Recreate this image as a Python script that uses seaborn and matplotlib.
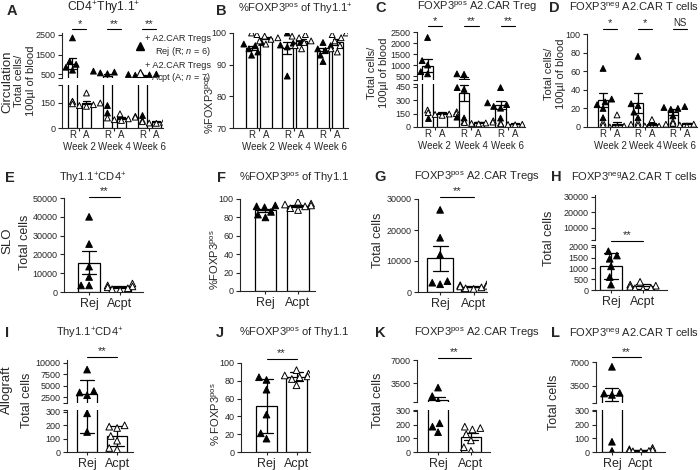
import warnings

import matplotlib

matplotlib.use("Agg")
import matplotlib.pyplot as plt
import pandas as pd
import seaborn as sns
from matplotlib.lines import Line2D

warnings.filterwarnings("ignore")

W, H = 700, 470
WEEKS = ["Week 2", "Week 4", "Week 6"]
GROUPS = ["Rej", "Acpt"]

# A - circulating CD4+Thy1.1+ per 100 ul blood, per week (R = rejecting, A = accepting)
a_rej = [[2350, 1150, 1000, 850, 700, 165], [650, 600, 560, 520, 135, 90], [500, 480, 460, 440, 420, 80]]
a_acpt = [[210, 160, 150, 145, 140, 135, 130], [85, 70, 65, 60, 55, 50, 45], [50, 45, 40, 38, 35, 30, 28]]
# B - %FOXP3pos of Thy1.1+
b_rej = [[97, 96.5, 96, 95, 94, 93], [100, 97, 96.8, 96.2, 95.6, 86.4], [97, 96, 95, 94.5, 93, 91]]
b_acpt = [[100, 99.5, 99, 98.5, 98, 97.5, 96.5], [99.5, 99, 98.5, 97.5, 97, 96, 95], [100, 99.5, 98.5, 97.5, 96, 95, 94]]
# C - FOXP3pos A2.CAR Treg
c_rej = [[2250, 1200, 1000, 700, 600, 100], [600, 580, 440, 420, 110, 100], [440, 270, 250, 230, 210, 100]]
c_acpt = [[190, 170, 160, 150, 145, 140, 130], [70, 60, 55, 50, 45, 40, 35], [50, 45, 40, 35, 30, 28, 25]]
# D - FOXP3neg A2.CAR T cells
d_rej = [[63, 30, 27, 24, 20, 10], [76, 25, 23, 16, 10, 2], [22, 21, 20, 19, 12, 2]]
d_acpt = [[13, 5, 3, 2, 1, 0, 0], [8, 5, 3, 2, 1, 1, 0], [7, 6, 5, 4, 3, 2, 1]]

# E-H - SLO totals
e_rej, e_acpt = [40000, 25500, 13500, 8000, 3500, 3500], [4500, 3500, 3000, 2500, 2000, 1500, 1000]
f_rej, f_acpt = [93, 92, 91, 86, 83, 80], [97, 95, 94, 93, 92, 90, 88]
g_rej, g_acpt = [26500, 17500, 12000, 3500, 3000, 2500], [2500, 2200, 2000, 1800, 1500, 1200, 1000]
h_rej, h_acpt = [1800, 1600, 1450, 1100, 600, 250], [380, 250, 200, 150, 100, 80, 50]
# I-L - allograft totals
i_rej, i_acpt = [8500, 3800, 3500, 2900, 290, 150], [200, 190, 180, 120, 85, 30, 20]
j_rej, j_acpt = [84, 81, 70, 42, 21, 15], [92, 88, 86, 85, 84, 82, 75]
k_rej, k_acpt = [2800, 1500, 700, 210, 185, 145], [185, 175, 165, 130, 85, 35, 8]
l_rej, l_acpt = [6300, 2500, 2400, 2200, 75, 8], [30, 20, 15, 10, 8, 5, 3]

sns.set_style("ticks")
plt.rcParams["font.family"] = ["Liberation Sans", "DejaVu Sans"]
plt.rcParams["mathtext.fontset"] = "custom"
plt.rcParams["mathtext.rm"] = "Liberation Sans"
plt.rcParams["mathtext.it"] = "Liberation Sans:italic"
plt.rcParams["mathtext.default"] = "regular"
plt.rcParams["axes.linewidth"] = 0.8


def by_week(rej, acpt):
    rows = []
    for week, r, a in zip(WEEKS, rej, acpt):
        rows += [(week, "R", v) for v in r] + [(week, "A", v) for v in a]
    return pd.DataFrame(rows, columns=["week", "grp", "value"])


def by_group(rej, acpt):
    rows = [("Rej", v) for v in rej] + [("Acpt", v) for v in acpt]
    return pd.DataFrame(rows, columns=["grp", "value"])


def rect(l, t, r, b):
    return [l / W, 1 - b / H, (r - l) / W, (b - t) / H]


def ftext(fig, x, y, s, **kw):
    kw.setdefault("ha", "center")
    kw.setdefault("va", "center")
    fig.text(x / W, 1 - y / H, s, **kw)


def panel(fig, x0, x1, segs, df, ylims, yticks, xlim, err, grouped=False, width=0.7, gap=0.0):
    axes = [fig.add_axes(rect(x0, t, x1, b)) for t, b in segs]
    broken = len(axes) > 1
    for i, ax in enumerate(axes):
        lo, hi = ylims[i]
        # each point goes to one segment only, so nothing peeks over the break
        pts = df
        if broken:
            pts = df[(df["value"] >= lo) & (df["value"] <= hi)]
            if i < len(axes) - 1:
                pts = pts[pts["value"] > ylims[i + 1][1]]
        bar_kw = dict(errorbar=err, capsize=0.45, edgecolor="black", linewidth=0.9, saturation=1,
                      err_kws={"color": "black", "linewidth": 0.9}, ax=ax)
        pt_kw = dict(marker="^", edgecolor="black", linewidth=0.7, legend=False, warn_thresh=1, ax=ax)
        if grouped:
            sns.barplot(data=df, x="week", y="value", hue="grp", order=WEEKS, hue_order=["R", "A"],
                        palette={"R": "white", "A": "white"}, width=0.8, gap=gap, legend=False, **bar_kw)
            sns.swarmplot(data=pts, x="week", y="value", hue="grp", order=WEEKS, hue_order=["R", "A"],
                          palette={"R": "black", "A": "white"}, dodge=True, size=4.2, **pt_kw)
        else:
            sns.barplot(data=df, x="grp", y="value", order=GROUPS, color="white", width=width, **bar_kw)
            sns.swarmplot(data=pts, x="grp", y="value", hue="grp", order=GROUPS, hue_order=GROUPS,
                          palette={"Rej": "black", "Acpt": "white"}, size=4.8, **pt_kw)
        ax.set_ylim(lo, hi)
        ax.set_yticks(yticks[i])
        ax.set_xlim(xlim)
        ax.set_xlabel("")
        ax.set_ylabel("")
        sns.despine(ax=ax)
        ax.tick_params(labelsize=6.5, length=3, width=0.8, pad=1.5)
        if broken:
            ax.set_yticks([lo if i == 0 else hi], minor=True)
            ax.tick_params(axis="y", which="minor", length=3, width=0.8)
        if i < len(axes) - 1:
            ax.spines["bottom"].set_visible(False)
            ax.tick_params(axis="x", bottom=False, labelbottom=False)

    low = axes[-1]
    if grouped:
        centers = sorted(p.get_x() + p.get_width() / 2 for p in low.patches)
        low.set_xticks(range(len(WEEKS)))
        low.set_xticklabels(WEEKS)
        low.set_xticks(centers, minor=True)
        low.set_xticklabels(["R", "A"] * len(WEEKS), minor=True)
        low.tick_params(axis="x", which="major", length=2, pad=8, labelsize=7)
        low.tick_params(axis="x", which="minor", length=0, pad=1.5, labelsize=7)
    else:
        low.set_xticks(range(len(GROUPS)))
        low.set_xticklabels(GROUPS)
        low.tick_params(axis="x", length=2.5, labelsize=9)
    return axes


def sig(ax, x0, x1, y, label, size=8):
    trans = ax.get_xaxis_transform()
    ax.plot([x0, x1], [y, y], color="black", lw=0.8, transform=trans, clip_on=False)
    ax.text((x0 + x1) / 2, y + 0.01, label, transform=trans, ha="center", va="bottom", fontsize=size)


def week_pairs(ax):
    c = sorted(p.get_x() + p.get_width() / 2 for p in ax.patches)
    return [(c[k], c[k + 1]) for k in range(0, len(c), 2)]


fig = plt.figure(figsize=(W / 100, H / 100), dpi=100, facecolor="white")

# ---- row 1: circulation time course ----
axA = panel(fig, 62, 163, [(33, 78), (85, 128)], by_week(a_rej, a_acpt),
            [(300, 2600), (0, 258)], [[500, 1500, 2500], [0, 150]], (-0.5, 2.39), "se", True, gap=0.35)
for (x0, x1), s in zip(week_pairs(axA[1]), ["*", "**", "**"]):
    sig(axA[0], x0, x1, 1.08, s)

axB = panel(fig, 233, 348, [(33, 128)], by_week(b_rej, b_acpt),
            [(70, 100)], [[70, 80, 90, 100]], (-0.72, 2.5), "se", True, gap=0.2)

axC = panel(fig, 417, 525, [(32, 80), (84, 127)], by_week(c_rej, c_acpt),
            [(320, 2500), (0, 480)], [[500, 1000, 1500, 2000, 2500], [0, 150, 300, 450]],
            (-0.49, 2.47), "se", True, gap=0.3)
for (x0, x1), s in zip(week_pairs(axC[1]), ["*", "**", "**"]):
    sig(axC[0], x0, x1, 1.12, s)

axD = panel(fig, 587, 697, [(34, 127)], by_week(d_rej, d_acpt),
            [(0, 100)], [list(range(0, 101, 20))], (-0.66, 2.49), "se", True, gap=0.3)
for (x0, x1), s in zip(week_pairs(axD[0]), ["*", "*", "NS"]):
    sig(axD[0], x0, x1, 1.055, s, size=8 if s != "NS" else 7)

# ---- row 2: SLO ----
axE = panel(fig, 64, 143, [(198, 292)], by_group(e_rej, e_acpt),
            [(0, 50000)], [list(range(0, 50001, 10000))], (-0.81, 1.74), "se", width=0.7)
sig(axE[0], 0, 1, 1.01, "**")
axF = panel(fig, 240, 315, [(199, 291)], by_group(f_rej, f_acpt),
            [(0, 100)], [list(range(0, 101, 20))], (-0.78, 1.52), "se", width=0.65)
axG = panel(fig, 418, 487, [(199, 292)], by_group(g_rej, g_acpt),
            [(0, 30000)], [[0, 10000, 20000, 30000]], (-0.66, 1.4), "se", width=0.78)
sig(axG[0], 0, 1, 1.02, "**")
axH = panel(fig, 595, 667, [(195, 240), (245, 290)], by_group(h_rej, h_acpt),
            [(2100, 31000), (0, 2090)], [[10000, 20000, 30000], [0, 500, 1000, 1500, 2000]],
            (-0.5, 1.75), "sd", width=0.66)
sig(axH[1], 0, 1, 1.1, "**")

# ---- row 3: allograft ----
axI = panel(fig, 67, 133, [(360, 403), (410, 452)], by_group(i_rej, i_acpt),
            [(1200, 10600), (0, 315)], [[2500, 5000, 7500, 10000], [0, 100, 200, 300]],
            (-0.67, 1.53), "sd", width=0.67)
sig(axI[0], 0, 1, 1.07, "**")
axJ = panel(fig, 241, 310, [(363, 452)], by_group(j_rej, j_acpt),
            [(0, 100)], [list(range(0, 101, 20))], (-0.85, 1.45), "sd", width=0.67)
sig(axJ[0], 0, 1, 1.045, "**")
axK = panel(fig, 417, 490, [(360, 402), (410, 452)], by_group(k_rej, k_acpt),
            [(610, 7000), (0, 307)], [[3500, 7000], [0, 100, 200, 300]],
            (-0.64, 1.58), "se", width=0.6)
sig(axK[0], 0, 1, 1.05, "**")
axL = panel(fig, 596, 665, [(362, 403), (410, 452)], by_group(l_rej, l_acpt),
            [(1020, 7000), (0, 307)], [[3500, 7000], [0, 100, 200, 300]],
            (-0.55, 1.83), "se", width=0.7)
sig(axL[0], 0, 1, 1.12, "**")

# ---- legend of panel A ----
handles = [Line2D([], [], marker="^", ls="none", color="black", markersize=6),
           Line2D([], [], marker="^", ls="none", markerfacecolor="white", markeredgecolor="black",
                  markeredgewidth=0.8, markersize=6)]
labels = ["+ A2.CAR Tregs\nRej (R; $\\mathit{n}$ = 6)", "+ A2.CAR Tregs\nAcpt (A; $\\mathit{n}$ = 7)"]
leg = fig.legend(handles, labels, loc="upper right", bbox_to_anchor=(211 / W, 1 - 34 / H),
                 frameon=False, fontsize=6.6, handlelength=0.8, handletextpad=0.15,
                 labelspacing=0.3, borderpad=0, borderaxespad=0)
for t in leg.get_texts():
    t.set_multialignment("right")

# ---- titles and panel letters ----
titles = [
    (104, 8, "CD4$^{+}$Thy1.1$^{+}$", 8.7), (296, 9, "%FOXP3$^{pos}$ of Thy1.1$^{+}$", 8),
    (477, 7, "FOXP3$^{pos}$ A2.CAR Treg", 8), (634, 7, "FOXP3$^{neg}$ A2.CAR T cells", 8),
    (93, 178, "Thy1.1$^{+}$CD4$^{+}$", 8), (294, 178, "%FOXP3$^{pos}$ of Thy1.1", 8),
    (477, 177, "FOXP3$^{pos}$ A2.CAR Tregs", 8), (634, 177, "FOXP3$^{neg}$A2.CAR T cells", 8),
    (90, 333, "Thy1.1$^{+}$CD4$^{+}$", 8), (294, 333, "%FOXP3$^{pos}$ of Thy1.1", 8),
    (477, 333, "FOXP3$^{pos}$ A2.CAR Tregs", 8), (634, 333, "FOXP3$^{neg}$ A2.CAR T cells", 8),
]
for x, y, s, size in titles:
    ftext(fig, x, y, s, fontsize=size)

letters = [(12, 11, "A"), (221, 11, "B"), (381, 8, "C"), (554, 8, "D"),
           (10, 178, "E"), (221, 178, "F"), (380, 177, "G"), (556, 177, "H"),
           (7, 333, "I"), (220, 333, "J"), (380, 333, "K"), (555, 333, "L")]
for x, y, s in letters:
    ftext(fig, x, y, s, fontsize=10.5, fontweight="heavy")

# ---- y-axis labels ----
per_blood = "Total cells/\n100µl of blood"
ylabels = [
    (7, 82, "Circulation", 9.5), (25, 81, per_blood, 8), (210, 104, "%FOXP3$^{pos}$", 7.8),
    (378, 73, per_blood, 8), (555, 74, per_blood, 8),
    (7, 241, "SLO", 9.5), (25, 242, "Total cells", 9), (215, 260, "%FOXP3$^{pos}$", 8),
    (378, 240, "Total cells", 9), (549, 238, "Total cells", 9),
    (7, 390, "Allograft", 9.5), (27, 400, "Total cells", 9), (216, 414, "% FOXP3$^{pos}$", 8),
    (378, 400, "Total cells", 9), (554, 402, "Total cells", 9),
]
for x, y, s, size in ylabels:
    ftext(fig, x, y, s, fontsize=size, rotation=90, linespacing=1.2)

fig.savefig("out.png", dpi=100, facecolor="white")
